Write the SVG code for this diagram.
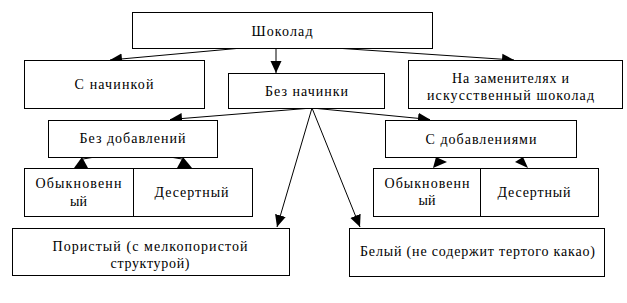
<svg xmlns="http://www.w3.org/2000/svg" width="627" height="303" viewBox="0 0 627 303">
<defs>
<marker id="ah" markerUnits="userSpaceOnUse" markerWidth="13" markerHeight="12" refX="12" refY="5.5" orient="auto" viewBox="0 0 13 11">
<path d="M0,0 L12,5.5 L0,11 z" fill="#000"/>
</marker>
<style>
.box{fill:#fff;stroke:#000;stroke-width:1}
.c{fill:none;stroke:#000;stroke-width:1;marker-end:url(#ah)}
.l{fill:none;stroke:#000;stroke-width:1}
.h{fill:#000;stroke:none}
text{font-family:"Liberation Serif","Times New Roman",serif;font-size:14px;fill:#000;text-anchor:middle}
</style>
</defs>
<rect width="627" height="303" fill="#fff"/>
<g id="connectors">
<line class="c" x1="242" y1="48" x2="110" y2="60"/>
<line class="c" x1="276" y1="48" x2="276" y2="73"/>
<line class="c" x1="335" y1="48" x2="514" y2="60"/>
<line class="c" x1="312" y1="108" x2="170" y2="119.5"/>
<line class="c" x1="312" y1="108" x2="430" y2="119.5"/>
<line class="c" x1="312" y1="108" x2="277" y2="227"/>
<line class="c" x1="312" y1="108" x2="360" y2="227"/>
<line class="l" x1="83" y1="159" x2="95" y2="157"/>
<polygon class="h" points="82,157 74,168 88,168"/>
<line class="l" x1="170" y1="157" x2="182" y2="159"/>
<polygon class="h" points="183,157 177,168 192,168"/>
<polygon class="h" points="436,157 433,168 447,162"/>
<polygon class="h" points="523,157 515,162 528,168"/>
</g>
<g id="n-shokolad">
<rect class="box" x="132.5" y="12.5" width="300" height="36"/>
<text x="282" y="35.5" textLength="61">Шоколад</text>
</g>
<g id="n-s-nachinkoy">
<rect class="box" x="24.5" y="60.5" width="180" height="48"/>
<text x="114" y="88.5" textLength="79">С начинкой</text>
</g>
<g id="n-bez-nachinki">
<rect class="box" x="228.5" y="73.5" width="156" height="35"/>
<text x="306.5" y="96" textLength="83">Без начинки</text>
</g>
<g id="n-zameniteli">
<rect class="box" x="408.5" y="60.5" width="214" height="48"/>
<text x="510.5" y="82.5" textLength="117">На заменителях и</text>
<text x="510.5" y="99.5" textLength="167">искусственный шоколад</text>
</g>
<g id="n-bez-dobavleniy">
<rect class="box" x="48.5" y="120.5" width="169" height="37"/>
<text x="132.5" y="143" textLength="106">Без добавлений</text>
</g>
<g id="n-s-dobavleniyami">
<rect class="box" x="385.5" y="120.5" width="191" height="37"/>
<text x="481" y="143.5" textLength="111">С добавлениями</text>
</g>
<g id="n-obyk-1">
<rect class="box" x="24.5" y="168.5" width="109" height="48"/>
<text x="78.5" y="187.5" textLength="86">Обыкновенн</text>
<text x="78.5" y="205.5">ый</text>
</g>
<g id="n-desert-1">
<rect class="box" x="133.5" y="168.5" width="119" height="48"/>
<text x="191.5" y="196.5" textLength="74">Десертный</text>
</g>
<g id="n-obyk-2">
<rect class="box" x="373.5" y="168.5" width="107" height="48"/>
<text x="427" y="187.5" textLength="85">Обыкновенн</text>
<text x="427" y="204.5">ый</text>
</g>
<g id="n-desert-2">
<rect class="box" x="480.5" y="168.5" width="118" height="48"/>
<text x="534" y="196.5" textLength="73">Десертный</text>
</g>
<g id="n-poristyy">
<rect class="box" x="12.5" y="228.5" width="277" height="47"/>
<text x="150" y="250.5" textLength="195">Пористый (с мелкопористой</text>
<text x="150" y="267.5" textLength="79">структурой)</text>
</g>
<g id="n-belyy">
<rect class="box" x="349.5" y="228.5" width="255" height="48"/>
<text x="477.5" y="256" textLength="235">Белый (не содержит тертого какао)</text>
</g>
</svg>
